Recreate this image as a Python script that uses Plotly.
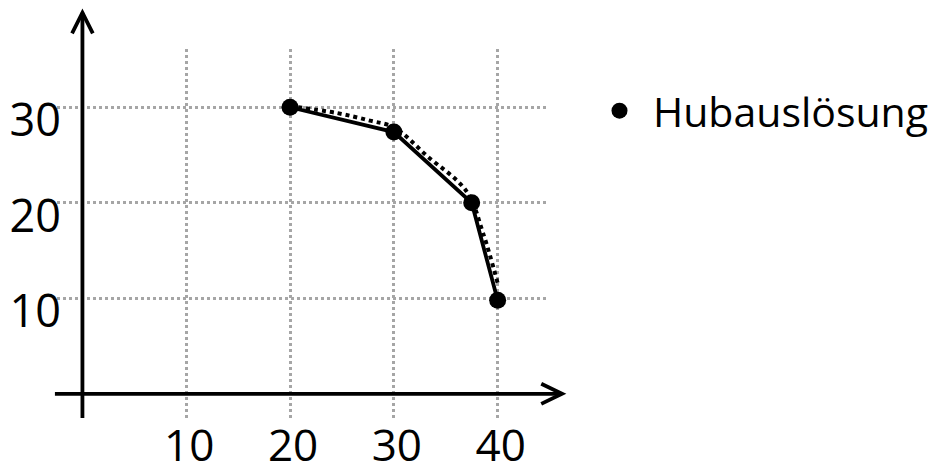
import plotly.graph_objects as go

# Data
x_vals = [20, 30, 37.5, 40]
y_vals = [30, 27.4, 20, 9.8]
trend_x = [20, 24.5, 27.7, 30, 33.2, 37.0, 38.6, 40]
trend_y = [30.1, 29.4, 28.6, 27.9, 24.9, 21.2, 16.8, 11.6]
x_ticks = [10, 20, 30, 40]
y_ticks = [10, 20, 30]
series_name = "Hubauslösung"

X_RANGE = [-2.45, 44.85]
Y_RANGE = [-2.53, 36.1]
FONT = "Open Sans"


def px_(x):
    return (x - X_RANGE[0]) / (X_RANGE[1] - X_RANGE[0])


def py_(y):
    return (y - Y_RANGE[0]) / (Y_RANGE[1] - Y_RANGE[0])


fig = go.Figure()
fig.add_trace(go.Scatter(x=trend_x, y=trend_y, mode="lines",
                         line=dict(color="black", width=4, dash="dot", shape="spline"),
                         showlegend=False, hoverinfo="skip"))
fig.add_trace(go.Scatter(x=x_vals, y=y_vals, mode="lines",
                         line=dict(color="black", width=3.8),
                         showlegend=False))
fig.add_trace(go.Scatter(x=x_vals, y=y_vals, mode="markers", name=series_name,
                         marker=dict(color="black", size=17)))

AX = dict(color="black", width=3.8)
shapes = []
# y axis with arrow
y_tip = 39.9
x_tip = 46.2
shapes.append(dict(type="line", xref="paper", yref="paper",
                   x0=px_(0), y0=0, x1=px_(0), y1=py_(y_tip), line=AX))
shapes.append(dict(type="path", xref="paper", yref="paper",
                   path=f"M {px_(-1.0)},{py_(y_tip - 2.16)} L {px_(0)},{py_(y_tip)} L {px_(1.0)},{py_(y_tip - 2.16)}",
                   line=AX))
# x axis with arrow
shapes.append(dict(type="line", xref="paper", yref="paper",
                   x0=px_(-2.65), y0=py_(0), x1=px_(x_tip), y1=py_(0), line=AX))
shapes.append(dict(type="path", xref="paper", yref="paper",
                   path=f"M {px_(x_tip - 2.0)},{py_(1.05)} L {px_(x_tip)},{py_(0)} L {px_(x_tip - 2.0)},{py_(-1.05)}",
                   line=AX))

fig.update_layout(
    width=949, height=464,
    margin=dict(l=57, r=401, t=49, b=46),
    paper_bgcolor="white", plot_bgcolor="white",
    font=dict(family=FONT, color="black", size=44),
    shapes=shapes,
    showlegend=True,
    legend=dict(x=(586 - 57) / 491, y=(418 - 111) / 369, xanchor="left", yanchor="middle",
                font=dict(size=41, family=FONT, color="black"),
                itemwidth=57,
                bgcolor="rgba(0,0,0,0)", borderwidth=0, tracegroupgap=0),
    xaxis=dict(range=X_RANGE, tickvals=x_ticks, ticktext=[str(v) for v in x_ticks],
               showgrid=True, gridcolor="#a6a6a6", gridwidth=2.5, griddash="dot",
               zeroline=False, showline=False, ticks="", automargin=False,
               ticklabelstandoff=-2, ticklabelshift=3,
               tickfont=dict(size=44, family=FONT, color="black")),
    yaxis=dict(range=Y_RANGE, tickvals=y_ticks, ticktext=[str(v) for v in y_ticks],
               showgrid=True, gridcolor="#a6a6a6", gridwidth=2.5, griddash="dot",
               zeroline=False, showline=False, ticks="", automargin=False,
               ticklabelstandoff=-5, ticklabelshift=13,
               tickfont=dict(size=45, family=FONT, color="black")),
)

fig.write_html("out.html", config={"displayModeBar": False},
               post_script="document.body.style.margin='0';document.body.style.overflow='hidden';")
